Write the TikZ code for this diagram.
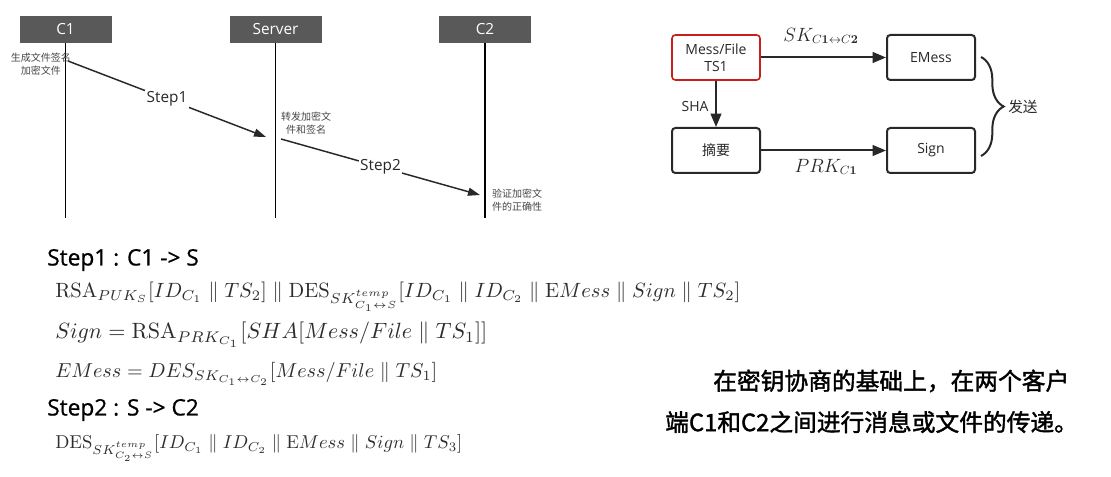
\documentclass[tikz,border=0pt]{standalone}
\usepackage[no-math]{fontspec}
\setmainfont{Open Sans}
\newfontfamily\headfont[FakeBold=0.8]{Open Sans}
\newfontfamily\cjk{Noto Sans CJK SC}
\newfontfamily\cjkb[FakeBold=1.6]{Noto Sans CJK SC}
\usepackage{amsmath,amssymb,graphicx}
\usetikzlibrary{arrows.meta,decorations.pathreplacing}
\newlength\pxu \setlength\pxu{0.75pt}
\definecolor{hdr}{RGB}{89,89,89}
\definecolor{mred}{RGB}{200,30,30}
\definecolor{fg}{RGB}{40,40,40}
\definecolor{fml}{RGB}{45,45,45}
\definecolor{note}{RGB}{70,70,70}
\tikzset{
  hdrbox/.style={fill=hdr, text=white, minimum width=69pt, minimum height=20.25pt, inner sep=0pt, font=\fontsize{11.5}{13}\selectfont},
  life/.style={line width=1.2pt, black},
  msg/.style={line width=1.1pt, fg, -{Triangle[length=9pt,width=6pt]}},
  steplbl/.style={fill=white, inner sep=1pt, font=\fontsize{11.5}{13}\selectfont, text=fg},
  smallnote/.style={align=center, font=\cjk\fontsize{7.5}{9.5}\selectfont, text=note},
  fbox/.style={draw=fg, line width=1.5pt, rounded corners=2.5pt, minimum width=66pt, minimum height=33.75pt, inner sep=0pt, align=center, font=\fontsize{10.5}{12.5}\selectfont, text=fg},
  farr/.style={line width=1.5pt, fg, -{Triangle[length=10pt,width=8pt]}},
  fml/.style={anchor=west, inner sep=0pt, text=fml},
  stephead/.style={anchor=west, inner sep=0pt, font=\headfont\fontsize{17}{20}\selectfont},
  cnline/.style={anchor=west, inner sep=0pt, font=\cjkb\fontsize{17.8}{20}\selectfont},
}
\begin{document}
\begin{tikzpicture}[x=0.75pt,y=-0.75pt]
\useasboundingbox[fill=white] (0,0) rectangle (1111,477);
% ---- sequence diagram ----
\node[hdrbox] (c1) at (65.5,29.5) {C1};
\node[hdrbox] (srv) at (275.5,29.5) {Server};
\node[hdrbox] (c2) at (485,29.5) {C2};
\coordinate (c1end) at (c1.south |- 0,218);
\coordinate (srvend) at (srv.south |- 0,218);
\coordinate (c2end) at (c2.south |- 0,218);
\draw[life] (c1.south) -- (c1end);
\draw[life] (srv.south) -- (srvend);
\draw[life] (c2.south) -- (c2end);
\coordinate (s1a) at (68,61);
\coordinate (s1b) at (266,137);
\coordinate (s2a) at (281,139);
\coordinate (s2b) at (480,195);
\draw[msg] (s1a) -- node[steplbl] (st1lbl) {Step1} (s1b);
\draw[msg] (s2a) -- node[steplbl] (st2lbl) {Step2} (s2b);
\node[smallnote] (n1) at (41,64.5) {生成文件签名\\加密文件};
\node[smallnote] (n2) at (306,123) {转发加密文\\件和签名};
\node[smallnote] (n3) at (517,200) {验证加密文\\件的正确性};
% ---- flow diagram ----
\node[fbox, draw=mred, line width=1.2pt] (mf) at (716,57.5) {Mess/File\\TS1};
\node[fbox] (em) at (931,57.5) {EMess};
\node[fbox] (zy) at (716,150.5) {\cjk 摘要};
\node[fbox] (sg) at (931,150.5) {Sign};
\draw[farr] (mf) -- (em);
\draw[farr] (mf) -- (zy);
\draw[farr] (zy) -- (sg);
\node[text=fg, font=\fontsize{13.5}{15}\selectfont] (lsk) at (821,36) {$SK_{C\mathbf{1}\leftrightarrow C\mathbf{2}}$};
\node[text=fg, font=\fontsize{10.5}{12}\selectfont] (lsha) at (695,107) {SHA};
\node[text=fg, font=\fontsize{13.5}{15}\selectfont] (lprk) at (826,167) {$PRK_{C\mathbf{1}}$};
\coordinate (br1) at (981,57);
\coordinate (br2) at (981,156);
\draw[fg, line width=1.5pt, decorate, decoration={brace, amplitude=17pt}] (br1) -- (br2);
\node[anchor=west, inner sep=0pt, text=fg, font=\cjk\fontsize{11}{13}\selectfont] (send) at (1008,107) {发送};
% ---- text ----
\node[stephead] (h1) at (47,260) {Step1 : C1 -> S};
\node[fml] (f1) at (55,297) {\resizebox{685\pxu}{!}{$\mathrm{RSA}_{PUK_S}[ID_{C_1}\parallel TS_2]\parallel \mathrm{DES}_{SK^{temp}_{C_1\leftrightarrow S}}[ID_{C_1}\parallel ID_{C_2}\parallel \mathrm{E}Mess\parallel Sign\parallel TS_2]$}};
\node[fml] (f2) at (55,335) {\resizebox{432\pxu}{!}{$Sign=\mathrm{RSA}_{PRK_{C_1}}[SHA[Mess/File\parallel TS_1]]$}};
\node[fml] (f3) at (55,374) {\resizebox{382\pxu}{!}{$EMess=DES_{SK_{C_1\leftrightarrow C_2}}[Mess/File\parallel TS_1]$}};
\node[stephead] (h2) at (47,410) {Step2 : S -> C2};
\node[fml] (f4) at (55,448) {\resizebox{407\pxu}{!}{$\mathrm{DES}_{SK^{temp}_{C_2\leftrightarrow S}}[ID_{C_1}\parallel ID_{C_2}\parallel \mathrm{E}Mess\parallel Sign\parallel TS_3]$}};
\node[cnline] (cn1) at (713,381) {在密钥协商的基础上，在两个客户};
\node[cnline] (cn2) at (665,422) {端C1和C2之间进行消息或文件的传递。};
\end{tikzpicture}
\end{document}
